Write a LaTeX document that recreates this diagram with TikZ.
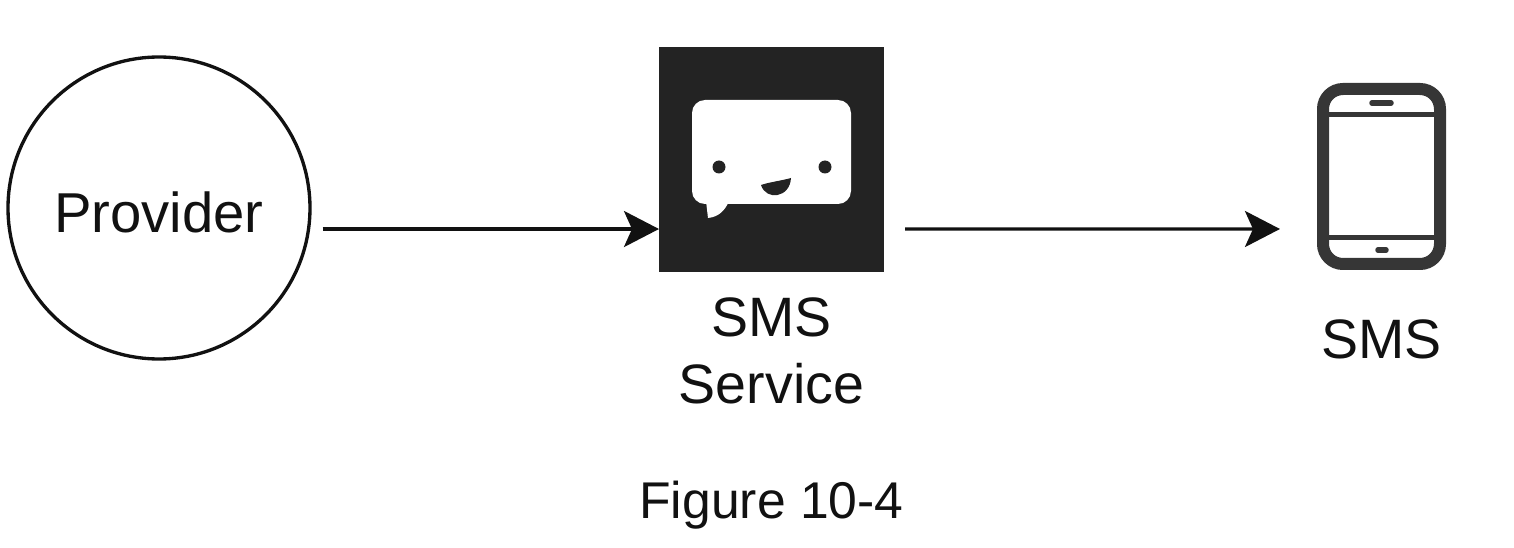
\documentclass[tikz,border=0pt]{standalone}
\usepackage{fontspec}
\setmainfont{Liberation Sans}
\usetikzlibrary{arrows.meta,positioning}
\definecolor{ink}{HTML}{111111}
\definecolor{slate}{HTML}{232323}
\definecolor{handset}{HTML}{363636}
\tikzset{
  flow/.style={ink, line width=0.95pt, -{Stealth[length=0.35cm,width=0.36cm,inset=0.08cm]}},
  caption/.style={ink, inner sep=0pt, outer sep=0pt, align=center, font=\fontsize{15.8}{19.05}\selectfont},
  providernode/.style={circle, draw=ink, line width=0.95pt, inner sep=0pt, outer sep=0pt, minimum size=3.02cm},
  servicenode/.style={rectangle, fill=slate, inner sep=0pt, outer sep=0pt, minimum size=2.25cm},
  phonenode/.style={rectangle, rounded corners=0.2cm, draw=handset, line width=0.12cm, inner sep=0pt, outer sep=0pt, minimum width=1.17cm, minimum height=1.75cm},
  phonebar/.style={handset, line width=0.05cm},
  phonekey/.style={handset, line width=0.055cm, line cap=round}
}
\begin{document}
\begin{tikzpicture}
  \useasboundingbox (0,0) rectangle (15.14,5.48);
  \node[providernode, font=\fontsize{16}{20}\selectfont, text=ink, text height=0.49cm, text depth=0cm] (provider) at (1.59,3.40) {Provider};
  \node[servicenode] (service) at (7.715,3.885) {};
  \node[phonenode] (phone) at (13.815,3.715) {};
  % bubble on the service box
  \fill[white, rounded corners=0.13cm] (6.92,3.44) rectangle (8.51,4.48);
  \fill[white] (7.06,3.47) -- (7.08,3.30) .. controls (7.18,3.31) and (7.25,3.37) .. (7.29,3.47) -- cycle;
  \fill[slate] (7.19,3.81) circle (0.065);
  \fill[slate] (8.25,3.81) circle (0.065);
  \fill[slate] (7.61,3.63) .. controls (7.70,3.66) and (7.80,3.67) .. (7.91,3.70) .. controls (7.90,3.50) and (7.66,3.47) .. (7.61,3.63) -- cycle;
  % handset details
  \draw[phonebar] (13.28,4.33) -- (14.35,4.33);
  \draw[phonebar] (13.28,3.10) -- (14.35,3.10);
  \draw[phonekey] (13.72,4.45) -- (13.91,4.45);
  \draw[phonekey] (13.78,2.98) -- (13.86,2.98);
  % labels
  \node[caption, below=0.26cm of service] (servicetext) {SMS\\Service};
  \node[caption, below=0.56cm of phone] (phonetext) {SMS};
  \node[caption, font=\fontsize{14.7}{18}\selectfont] (figtext) at (7.715,0.43) {Figure 10-4};
  % connectors
  \draw[flow, shorten <=0.14cm] (provider.-8.2) -- (provider.-8.2 -| service.west);
  \draw[flow, shorten <=0.21cm, shorten >=0.43cm] ([yshift=-0.695cm]service.east) -- ([yshift=-0.525cm]phone.west);
\end{tikzpicture}
\end{document}
